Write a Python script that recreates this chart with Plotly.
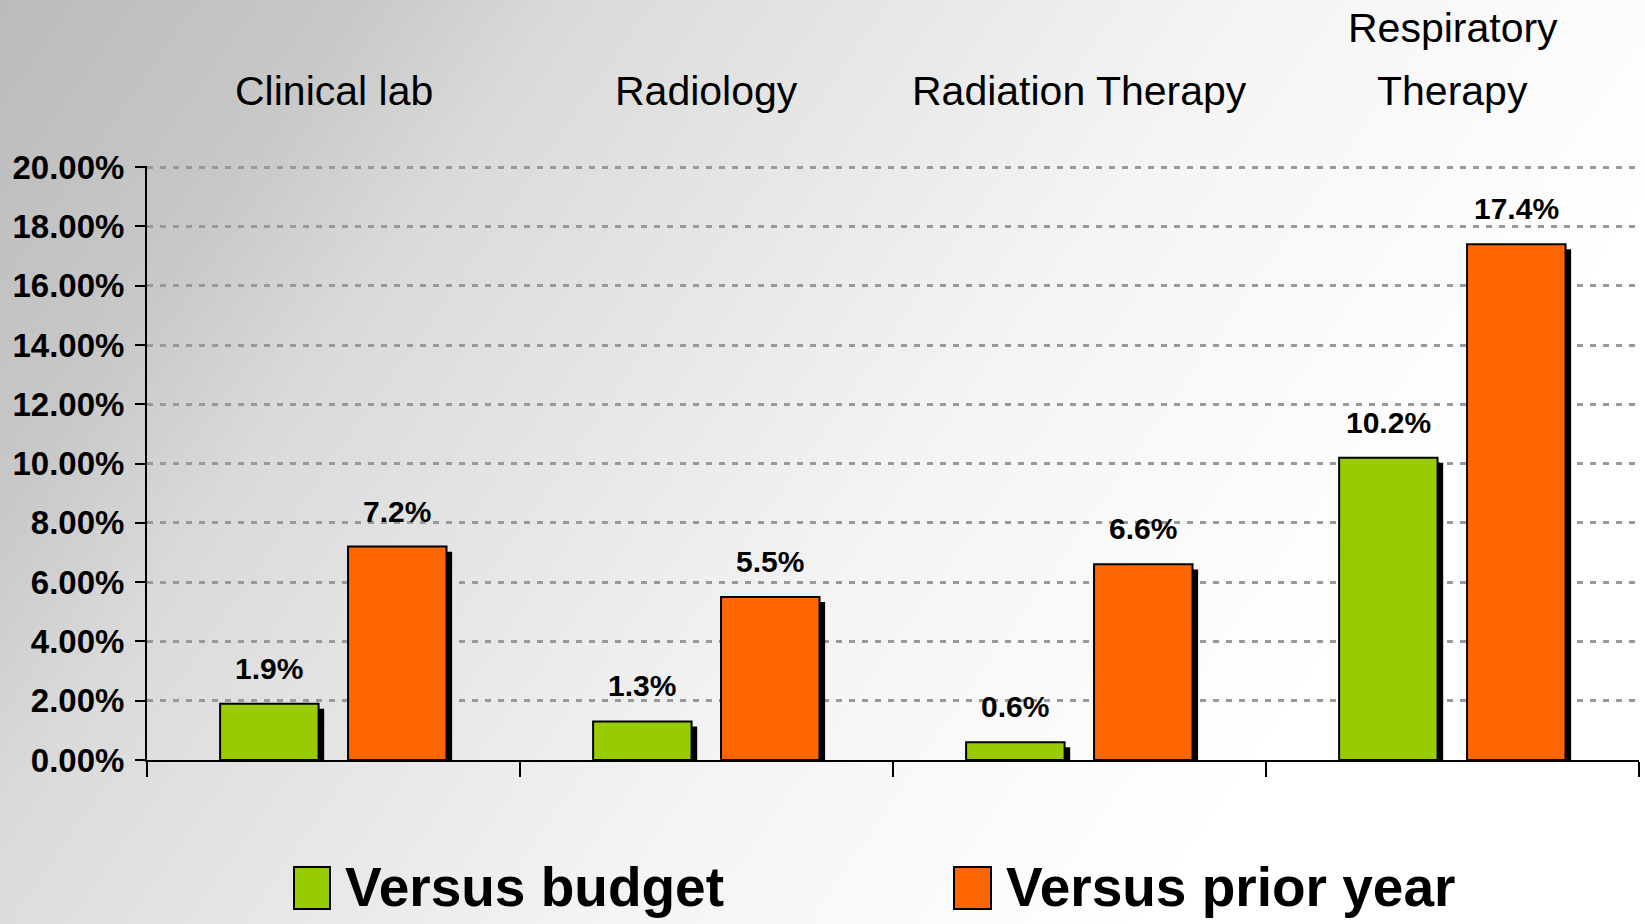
import base64
import plotly.graph_objects as go

# ---------------- data ----------------
categories = ["Clinical lab", "Radiology", "Radiation Therapy", "Respiratory<br>Therapy"]
series_names = ["Versus budget", "Versus prior year"]
versus_budget = [1.9, 1.3, 0.6, 10.2]
versus_prior_year = [7.2, 5.5, 6.6, 17.4]
y_tick_values = [0, 2, 4, 6, 8, 10, 12, 14, 16, 18, 20]
y_tick_labels = [f"{v:.2f}%" for v in y_tick_values]

# ---------------- style ----------------
W, H = 1645, 924
Y_TOP = 20.04
L, R, T, B = 147, 1639, 166, 760
GREEN = "#99CC00"
ORANGE = "#FF6600"
FONT = "Liberation Sans, Arial, sans-serif"
BAR_W = 0.264
OFFSETS = [-0.304, 0.039]
SHADOW_DX = 0.015
SHADOW_DY = 0.17
CAT_LINE_BOTTOM = 91   # px centre of last label line
CAT_LINE_GAP = 63      # px between label lines


def px_x(x):
    return (x - L) / (R - L)


def px_y(y):
    return (B - y) / (B - T)


fig = go.Figure()

series = [versus_budget, versus_prior_year]
colors = [GREEN, ORANGE]

# shadows
for vals, off in zip(series, OFFSETS):
    fig.add_trace(go.Bar(
        x=categories, y=[v - SHADOW_DY for v in vals],
        width=BAR_W, offset=off + SHADOW_DX,
        marker=dict(color="black", line=dict(width=0)),
        hoverinfo="skip", showlegend=False,
    ))
# bars
for name, vals, off, col in zip(series_names, series, OFFSETS, colors):
    fig.add_trace(go.Bar(
        x=categories, y=vals, name=name,
        width=BAR_W, offset=off,
        marker=dict(color=col, line=dict(color="black", width=2)),
        showlegend=False,
    ))

annotations = []
# value labels
for vals, off in zip(series, OFFSETS):
    for i, v in enumerate(vals):
        annotations.append(dict(
            x=i + off + BAR_W / 2, y=v, xref="x", yref="y",
            text=f"{v:.1f}%", showarrow=False, yanchor="bottom",
            yshift=17,
            font=dict(family=FONT, size=30, color="black", weight="bold"),
        ))
# category labels at top
for i, c in enumerate(categories):
    lines = c.split("<br>")
    n = len(lines)
    for k, line in enumerate(lines):
        ypx = CAT_LINE_BOTTOM - (n - 1 - k) * CAT_LINE_GAP
        annotations.append(dict(
            x=i, y=px_y(ypx), xref="x", yref="paper",
            text=line, showarrow=False, yanchor="middle", xanchor="center",
            font=dict(family=FONT, size=41, color="black"),
        ))

# manual legend
shapes = []
leg_boxes = [(294, 330), (954, 991)]
leg_text_x = [343, 1004]
for (x0, x1), tx, name, col in zip(leg_boxes, leg_text_x, series_names, colors):
    shapes.append(dict(
        type="rect", xref="paper", yref="paper",
        x0=px_x(x0), x1=px_x(x1), y0=px_y(909), y1=px_y(867),
        fillcolor=col, line=dict(color="black", width=2),
    ))
    annotations.append(dict(
        x=px_x(tx), y=px_y(887), xref="paper", yref="paper",
        text=name, showarrow=False, xanchor="left", yanchor="middle",
        font=dict(family=FONT, size=55, color="black", weight="bold"),
    ))

# gradient background as svg image
svg = f'''<svg xmlns="http://www.w3.org/2000/svg" width="{W}" height="{H}" viewBox="0 0 {W} {H}">
<defs><linearGradient id="g" gradientUnits="userSpaceOnUse" x1="0" y1="0" x2="1200" y2="840">
<stop offset="0" stop-color="#bbbbbb"/>
<stop offset="0.20" stop-color="#c8c8c8"/>
<stop offset="0.32" stop-color="#dadada"/>
<stop offset="0.70" stop-color="#f4f4f4"/>
<stop offset="1" stop-color="#ffffff"/>
</linearGradient></defs>
<rect x="0" y="0" width="{W}" height="{H}" fill="url(#g)"/>
</svg>'''
src = "data:image/svg+xml;base64," + base64.b64encode(svg.encode()).decode()

fig.update_layout(
    width=W, height=H,
    margin=dict(l=L, r=W - R, t=T, b=H - B, pad=0),
    barmode="overlay",
    paper_bgcolor="white",
    plot_bgcolor="rgba(0,0,0,0)",
    showlegend=False,
    annotations=annotations,
    shapes=shapes,
    images=[dict(
        source=src, xref="paper", yref="paper",
        x=px_x(0), y=px_y(0), sizex=W / (R - L), sizey=H / (B - T),
        xanchor="left", yanchor="top", sizing="stretch", layer="below",
    )],
    xaxis=dict(
        type="category", categoryorder="array", categoryarray=categories,
        showticklabels=False, showgrid=False, zeroline=False,
        showline=True, linecolor="black", linewidth=2,
        ticks="outside", tickson="boundaries", ticklen=15, tickwidth=2, tickcolor="black",
        range=[-0.5, 3.5],
    ),
    yaxis=dict(
        range=[0, Y_TOP], tickmode="array", tickvals=y_tick_values, ticktext=y_tick_labels,
        showgrid=True, gridcolor="#999999", gridwidth=2.5, griddash="6px,7px",
        zeroline=False, showline=True, linecolor="black", linewidth=2,
        ticks="outside", ticklen=10, tickwidth=2, tickcolor="black",
        ticklabelstandoff=4,
        tickfont=dict(family=FONT, size=33, color="black", weight="bold"),
    ),
)

fig.write_html(
    "out.html",
    config={"displayModeBar": False},
    post_script="document.body.style.margin='0';document.body.style.overflow='hidden';",
)
